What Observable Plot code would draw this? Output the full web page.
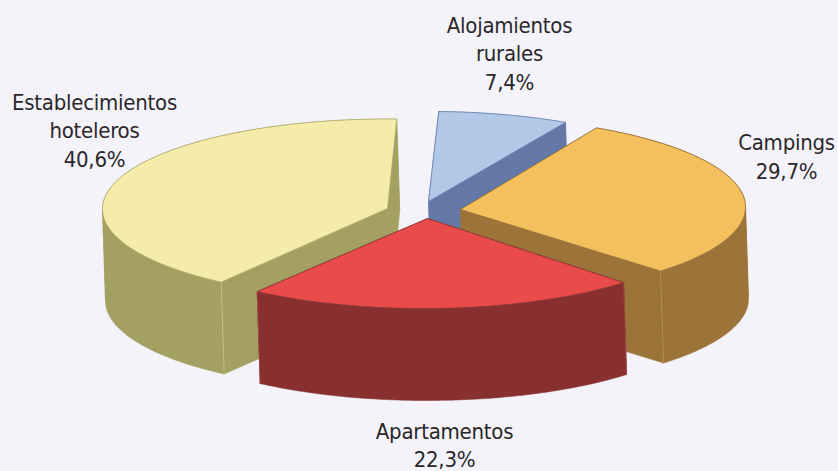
<!DOCTYPE html>
<html><head><meta charset="utf-8">
<style>html,body{margin:0;padding:0;background:#f4f3fa;overflow:hidden}svg{display:block}svg text{letter-spacing:-0.25px}</style>
<script src="https://cdn.jsdelivr.net/npm/d3@7"></script>
<script src="https://cdn.jsdelivr.net/npm/@observablehq/plot@0.6"></script>
</head><body><div id="chart"></div>
<script>
// Data, in the source's clockwise order
const categories = ["Establecimientos hoteleros","Alojamientos rurales","Campings","Apartamentos"];
const shares = [40.6, 7.4, 29.7, 22.3];
const labelTexts = ["Establecimientos\nhoteleros\n40,6%","Alojamientos\nrurales\n7,4%","Campings\n29,7%","Apartamentos\n22,3%"];

// Styling and layout, per slice
const topColors  = ["#f5eca9","#b2c8e7","#f3c05d","#e84b4a"];
const sideColors = ["#a3a061","#6478a8","#9c7339","#87302f"];
const edgeColors = ["#b0ac70","#6a82b4","#94703a","#8a3a38"];
const cornerColors = ["#c9c688","#6478a8","#b8904f","#a04a48"];
const apexes = [[387,208],[428,201],[460,209],[427,218]];
const rimCentres = [[387,208.5],[429,201],[460,206.5],[423,218]];
const labelCentres = [[94,128.5],[509,51.5],[786,155],[444,443.5]];
const drawOrder = [1,0,2,3];

const W = 838, H = 471;
const RX = 285, RY = 90, DEPTH = 92, SHIFT = 3, START = 125.7;
const rad = d => d * Math.PI / 180;

let acc = START;
const slices = shares.map((s, i) => {
  const a0 = acc, a1 = acc + s * 3.6; acc = a1;
  const [cx, cy] = rimCentres[i];
  const rim = d3.range(0, 121).map(k => {
    const t = rad(a0 + (a1 - a0) * k / 120);
    return {x: cx + RX * Math.cos(t), y: cy + RY * Math.sin(t)};
  });
  return {i, apex: {x: apexes[i][0], y: apexes[i][1]}, rim};
});
const down = p => ({x: p.x + SHIFT, y: p.y + DEPTH});
const poly = pts => [...pts, pts[0]];

// Split a rim into runs that run the same way across the extrusion direction
const facingRuns = rim => {
  const runs = [[rim[0]]];
  let sign = 0;
  for (let k = 1; k < rim.length; k++) {
    const s = Math.sign((rim[k].x - rim[k-1].x) * DEPTH - (rim[k].y - rim[k-1].y) * SHIFT);
    if (sign && s !== sign) runs.push([rim[k-1]]);
    sign = s;
    runs[runs.length - 1].push(rim[k]);
  }
  return runs;
};

const marks = [];
const face = (pts, fill, stroke, sw = 0.7) =>
  marks.push(Plot.line(poly(pts), {x: "x", y: "y", fill, stroke, strokeWidth: sw}));

for (const idx of drawOrder) {
  const {i, apex, rim} = slices[idx];
  const first = rim[0], last = rim[rim.length - 1];
  const side = sideColors[i];
  for (const run of facingRuns(rim)) face([...run, ...run.map(down).reverse()], side, side, 0.5);
  face([apex, first, down(first), down(apex)], side, side, 0.5);
  face([apex, last, down(last), down(apex)], side, side, 0.5);
  // light vertical seams at the corners of the extruded rim
  for (const p of [first, last]) {
    if (p.y > apex.y) marks.push(Plot.line([p, down(p)], {x: "x", y: "y", stroke: cornerColors[i], strokeWidth: 0.8}));
  }
  face([apex, ...rim], topColors[i], edgeColors[i], 0.8);
}

marks.push(Plot.text(labelTexts.map((t, i) => ({t, x: labelCentres[i][0], y: labelCentres[i][1]})), {
  x: "x", y: "y", text: "t", textAnchor: "middle", lineAnchor: "middle",
  lineHeight: 1.3, fontSize: 22, fill: "#2a272b",
  fontFamily: "'DejaVu Sans Condensed','DejaVu Sans',sans-serif"
}));

const chart = Plot.plot({
  width: W, height: H, margin: 0,
  x: {domain: [0, W], range: [0, W], axis: null},
  y: {domain: [0, H], range: [0, H], axis: null},
  style: {background: "#f4f3fa", overflow: "visible"},
  marks
});
document.getElementById("chart").append(chart);
</script></body></html>
